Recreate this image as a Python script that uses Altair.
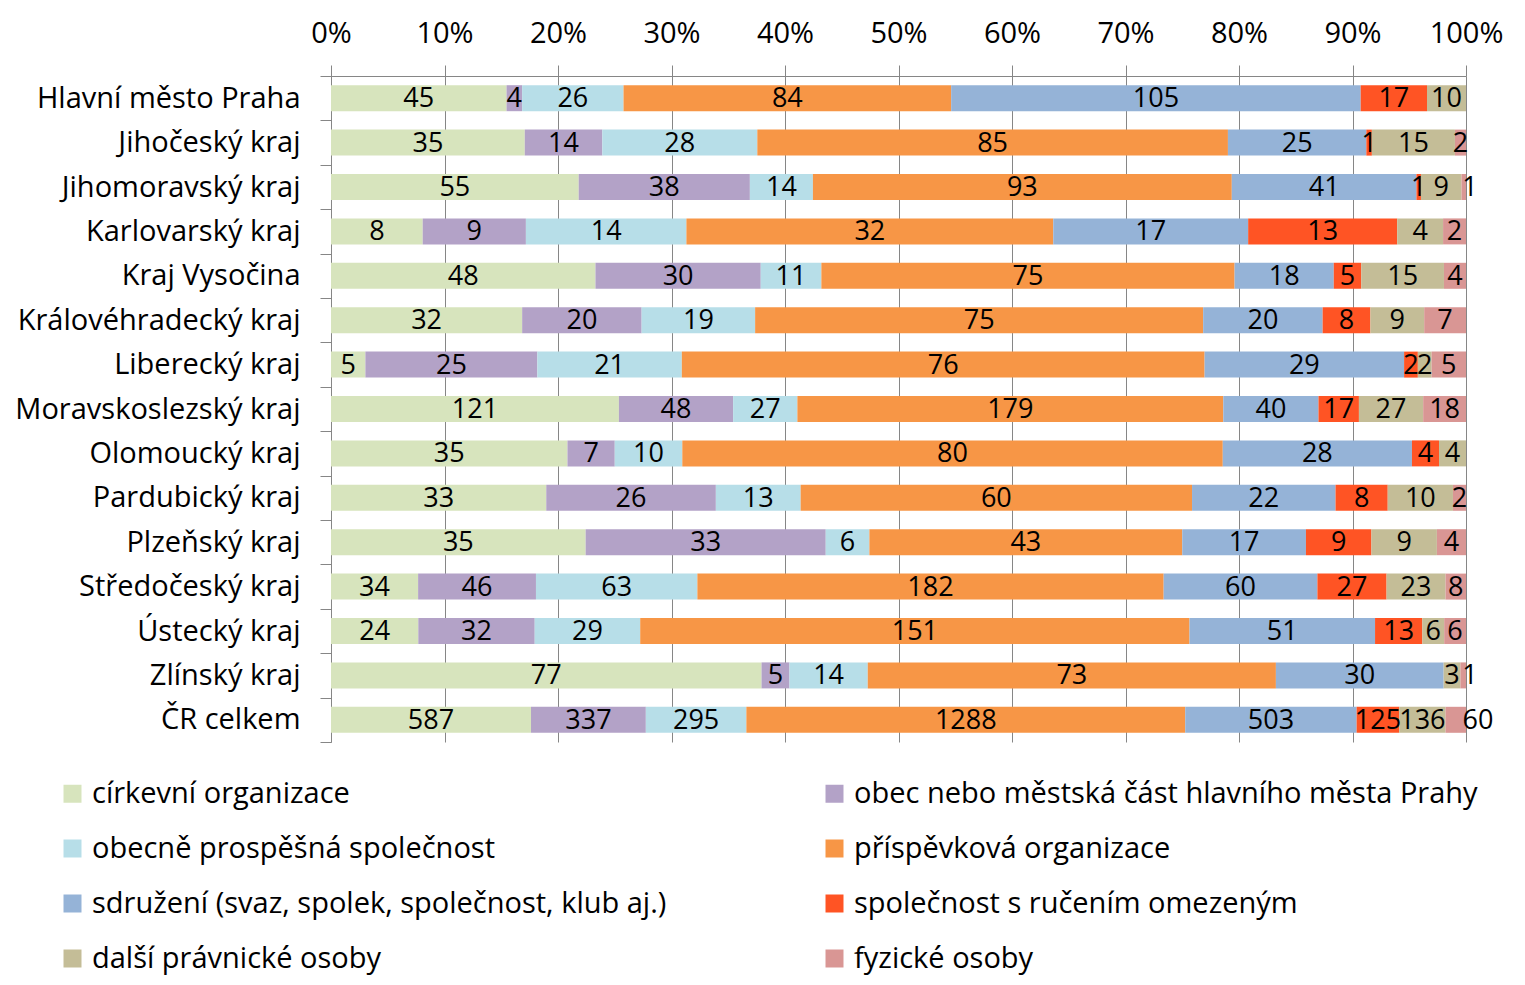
import altair as alt
import pandas as pd

regions = ["Hlavní město Praha", "Jihočeský kraj", "Jihomoravský kraj", "Karlovarský kraj",
           "Kraj Vysočina", "Královéhradecký kraj", "Liberecký kraj", "Moravskoslezský kraj",
           "Olomoucký kraj", "Pardubický kraj", "Plzeňský kraj", "Středočeský kraj",
           "Ústecký kraj", "Zlínský kraj", "ČR celkem"]

categories = ["církevní organizace", "obec nebo městská část hlavního města Prahy",
              "obecně prospěšná společnost", "příspěvková organizace",
              "sdružení (svaz, spolek, společnost, klub aj.)", "společnost s ručením omezeným",
              "další právnické osoby", "fyzické osoby"]

colors = ["#D7E4BD", "#B3A2C7", "#B7DEE8", "#F79646", "#95B3D7", "#FF5424", "#C4BD97", "#D99694"]

cirkevni = [45, 35, 55, 8, 48, 32, 5, 121, 35, 33, 35, 34, 24, 77, 587]
obec = [4, 14, 38, 9, 30, 20, 25, 48, 7, 26, 33, 46, 32, 5, 337]
obecne_prospesna = [26, 28, 14, 14, 11, 19, 21, 27, 10, 13, 6, 63, 29, 14, 295]
prispevkova = [84, 85, 93, 32, 75, 75, 76, 179, 80, 60, 43, 182, 151, 73, 1288]
sdruzeni = [105, 25, 41, 17, 18, 20, 29, 40, 28, 22, 17, 60, 51, 30, 503]
sro = [17, 1, 1, 13, 5, 8, 2, 17, 4, 8, 9, 27, 13, 0, 125]
dalsi = [10, 15, 9, 4, 15, 9, 2, 27, 4, 10, 9, 23, 6, 3, 136]
fyzicke = [0, 2, 1, 2, 4, 7, 5, 18, 0, 2, 4, 8, 6, 1, 60]

series = [cirkevni, obec, obecne_prospesna, prispevkova, sdruzeni, sro, dalsi, fyzicke]

rows = []
for ci, (cat, vals) in enumerate(zip(categories, series)):
    for r, v in zip(regions, vals):
        rows.append({"region": r, "category": cat, "value": v, "order": ci})
df = pd.DataFrame(rows)

# legend lays out column by column: put the two-column reading order into the domain
legend_order = [0, 2, 4, 6, 1, 3, 5, 7]
legend_domain = [categories[i] for i in legend_order]
legend_range = [colors[i] for i in legend_order]

FONT = "Open Sans"
FS = 29
FS_BAR = 27
PLOT_W = 1135
GRAY = "#868686"

base = alt.Chart(df).transform_stack(
    stack="value", groupby=["region"], as_=["x0", "x1"], offset="normalize",
    sort=[alt.SortField("order", order="ascending")]
).transform_calculate(
    mid="(datum.x0 + datum.x1) / 2",
    segpx=f"(datum.x1 - datum.x0) * {PLOT_W}",
).transform_calculate(
    labx=(f"datum.order == 7 && datum.value >= 10 && datum.segpx < 30 ? datum.x1 + 12 / {PLOT_W} : "
          f"(datum.order == 7 && datum.segpx < 6 ? datum.x1 + 4 / {PLOT_W} : datum.mid)")
)

y_enc = alt.Y("region:N", sort=regions, title=None,
              scale=alt.Scale(paddingInner=0, paddingOuter=0),
              axis=alt.Axis(labelFont=FONT, labelFontSize=FS, labelColor="black",
                            labelPadding=20, tickBand="extent", tickSize=11,
                            tickColor=GRAY, domainColor=GRAY, labelLimit=400))

bars = base.mark_bar(size=26).encode(
    y=y_enc,
    x=alt.X("x0:Q", title=None, scale=alt.Scale(domain=[0, 1], nice=False),
            axis=alt.Axis(orient="top", format="%", values=[i / 10 for i in range(11)],
                          labelFont=FONT, labelFontSize=FS, labelColor="black",
                          labelFlush=False, labelOverlap=False,
                          labelPadding=17, tickSize=11, tickColor=GRAY,
                          domainColor=GRAY, gridColor=GRAY, grid=True)),
    x2="x1:Q",
    color=alt.Color("category:N",
                    scale=alt.Scale(domain=legend_domain, range=legend_range),
                    legend=alt.Legend(title=None, orient="none", legendX=-273, legendY=703,
                                      columns=2, columnPadding=153, rowPadding=25, padding=0,
                                      symbolType="square", symbolSize=324, symbolStrokeWidth=0,
                                      labelFont=FONT, labelFontSize=FS, labelColor="black",
                                      labelLimit=800, labelOffset=5)),
    order=alt.Order("order:Q"),
)

labels = base.transform_filter("datum.value > 0").mark_text(
    font=FONT, fontSize=FS_BAR, color="black", baseline="middle", align="center", dy=1
).encode(
    y=alt.Y("region:N", sort=regions),
    x=alt.X("labx:Q"),
    text=alt.Text("value:Q", format="d"),
)

chart = (bars + labels).properties(
    width=PLOT_W, height=666,
    autosize=alt.AutoSizeParams(type="none"),
    padding={"left": 323, "top": 68, "right": 50, "bottom": 243},
).configure_view(stroke=None).configure_axis(gridWidth=1, domainWidth=1)

chart.save("out.html", embed_options={"renderer": "svg", "actions": False})
